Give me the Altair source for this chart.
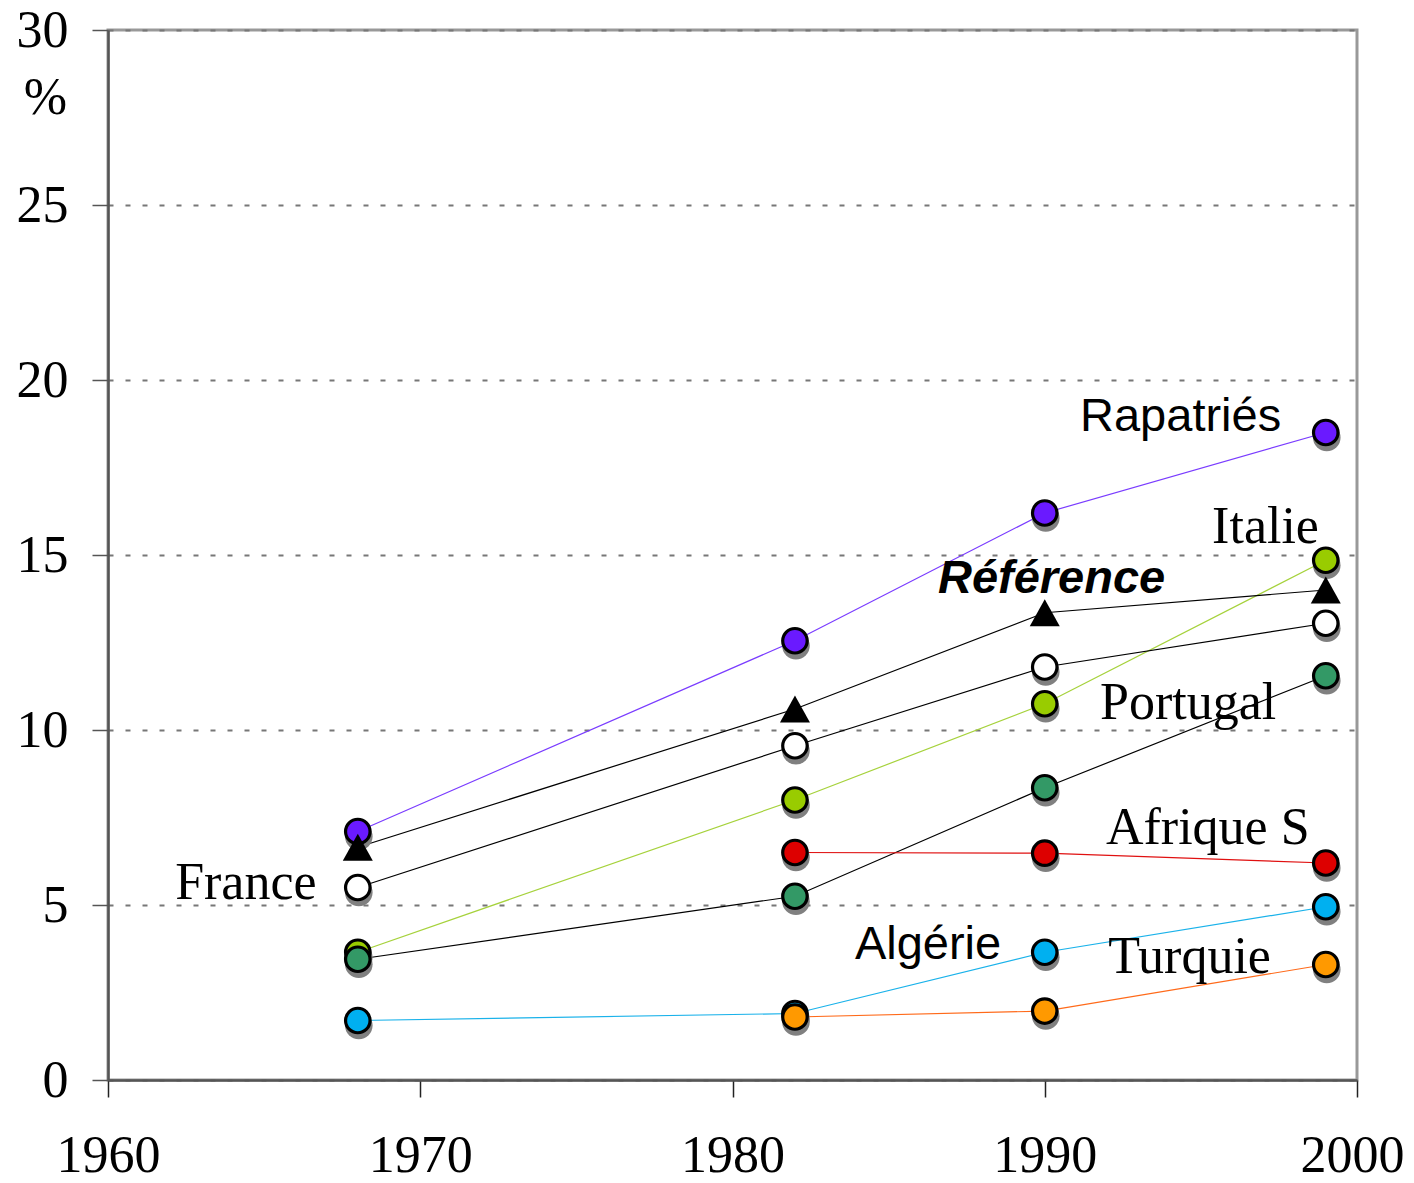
import altair as alt
import pandas as pd

# ---- data ----
years = [1968, 1982, 1990, 1999]

series_names = ["Rapatriés", "Italie", "Portugal", "Afrique S", "Algérie", "Turquie", "France", "Référence"]
rapatries = [7.1, 12.55, 16.2, 18.5]
italie = [3.65, 8.0, 10.75, 14.85]
portugal = [3.45, 5.25, 8.35, 11.55]
afrique_s = [None, 6.5, 6.48, 6.2]
algerie = [1.7, 1.9, 3.65, 4.95]
turquie = [None, 1.8, 1.97, 3.3]
france = [5.5, 9.55, 11.8, 13.05]
reference = [6.65, 10.6, 13.35, 14.0]

series_values = [rapatries, italie, portugal, afrique_s, algerie, turquie, france, reference]
line_colors = ["#7a3cff", "#a6d23c", "#000000", "#e01010", "#1ab2ea", "#ff6a1a", "#000000", "#000000"]
fill_colors = ["#6a1aff", "#99cc00", "#339966", "#dd0000", "#00b0f0", "#ff9900", "#ffffff", "#000000"]

# labels: text, anchor year (left edge), anchor value (vertical centre)
serif_labels = ["Italie", "Portugal", "Afrique S", "Turquie", "France"]
serif_x = [1995.36, 1991.77, 1991.96, 1992.03, 1962.15]
serif_y = [15.8, 10.77, 7.19, 3.51, 5.63]
sans_labels = ["Rapatriés", "Algérie"]
sans_x = [1991.13, 1983.92]
sans_y = [18.94, 3.86]
bold_labels = ["Référence"]
bold_x = [1986.58]
bold_y = [14.31]

x_ticks = [1960, 1970, 1980, 1990, 2000]
y_ticks = [0, 5, 10, 15, 20, 25, 30]

# ---- build tables ----
rows = []
for z, (name, vals, lc, fc) in enumerate(zip(series_names, series_values, line_colors, fill_colors)):
    for yr, v in zip(years, vals):
        if v is None:
            continue
        rows.append({"series": name, "year": yr, "value": v, "line": lc, "fill": fc, "z": z})
df = pd.DataFrame(rows)
df_circ = df[df["series"] != "Référence"]
df_tri = df[df["series"] == "Référence"]

lab_serif = pd.DataFrame({"text": serif_labels, "x": serif_x, "y": serif_y})
lab_sans = pd.DataFrame({"text": sans_labels, "x": sans_x, "y": sans_y})
lab_bold = pd.DataFrame({"text": bold_labels, "x": bold_x, "y": bold_y})

xscale = alt.Scale(domain=[1960, 2000], nice=False, zero=False)
yscale = alt.Scale(domain=[0, 30], nice=False)

x_enc = alt.X("year:Q", scale=xscale, axis=alt.Axis(
    values=x_ticks, format="d", title=None, grid=False, labelFlush=False,
    labelOffset={"condition": {"test": "datum.value === 2000", "value": -5}, "value": 0},
    tickSize=17, tickColor="#222222", tickWidth=1.5,
    domainColor="#555555", domainWidth=2.5,
    labelPadding=33, labelFont="Liberation Serif", labelFontSize=52, labelColor="black",
))
y_enc = alt.Y("value:Q", scale=yscale, axis=alt.Axis(
    values=y_ticks, title="%", titleAngle=0, titleX=-63, titleY=67,
    titleAlign="center", titleBaseline="middle", labelFlush=False,
    titleFont="Liberation Serif", titleFontSize=52, titleFontWeight="normal", titleColor="black",
    grid=True, gridColor="#777777", gridDash=[5, 12], gridWidth=2,
    tickSize=16, tickColor="#555555", tickWidth=1.5,
    domainColor="#555555", domainWidth=2.5,
    labelPadding=24, labelFont="Liberation Serif", labelFontSize=52, labelColor="black",
))

base = alt.Chart(df)

lines = base.mark_line(strokeWidth=1.2).encode(
    x=x_enc, y=y_enc,
    detail="series:N",
    color=alt.Color("line:N", scale=None),
    order=alt.Order("year:Q"),
)

shadows = alt.Chart(df_circ).mark_point(
    shape="circle", filled=True, size=760, color="#808080", opacity=1,
    strokeWidth=0, xOffset=1, yOffset=5,
).encode(x="year:Q", y="value:Q", order=alt.Order("z:Q"))

circles = alt.Chart(df_circ).mark_point(
    shape="circle", filled=True, size=600, stroke="black", strokeWidth=3.2, opacity=1,
).encode(
    x="year:Q", y="value:Q",
    fill=alt.Fill("fill:N", scale=None),
    order=alt.Order("z:Q"),
)

triangles = alt.Chart(df_tri).mark_point(
    shape="M0,-0.9L1,0.9L-1,0.9Z", filled=True, size=900, color="black", opacity=1,
).encode(x="year:Q", y="value:Q")

t_serif = alt.Chart(lab_serif).mark_text(
    align="left", baseline="middle", font="Liberation Serif", fontSize=52, color="black",
).encode(x=alt.X("x:Q"), y=alt.Y("y:Q"), text="text:N")

t_sans = alt.Chart(lab_sans).mark_text(
    align="left", baseline="middle", font="Liberation Sans", fontSize=47, color="black",
).encode(x=alt.X("x:Q"), y=alt.Y("y:Q"), text="text:N")

t_bold = alt.Chart(lab_bold).mark_text(
    align="left", baseline="middle", font="Liberation Sans", fontSize=47,
    fontWeight="bold", fontStyle="italic", color="black",
).encode(x=alt.X("x:Q"), y=alt.Y("y:Q"), text="text:N")

chart = alt.layer(lines, shadows, circles, triangles, t_serif, t_sans, t_bold).properties(
    width=1249, height=1050,
    autosize=alt.AutoSizeParams(type="none"),
    padding={"left": 100, "top": 22, "right": 48, "bottom": 95},
    background="white",
).configure_view(
    stroke="#999999", strokeWidth=3,
)

chart.save("out.html", embed_options={"renderer": "svg", "actions": False})
